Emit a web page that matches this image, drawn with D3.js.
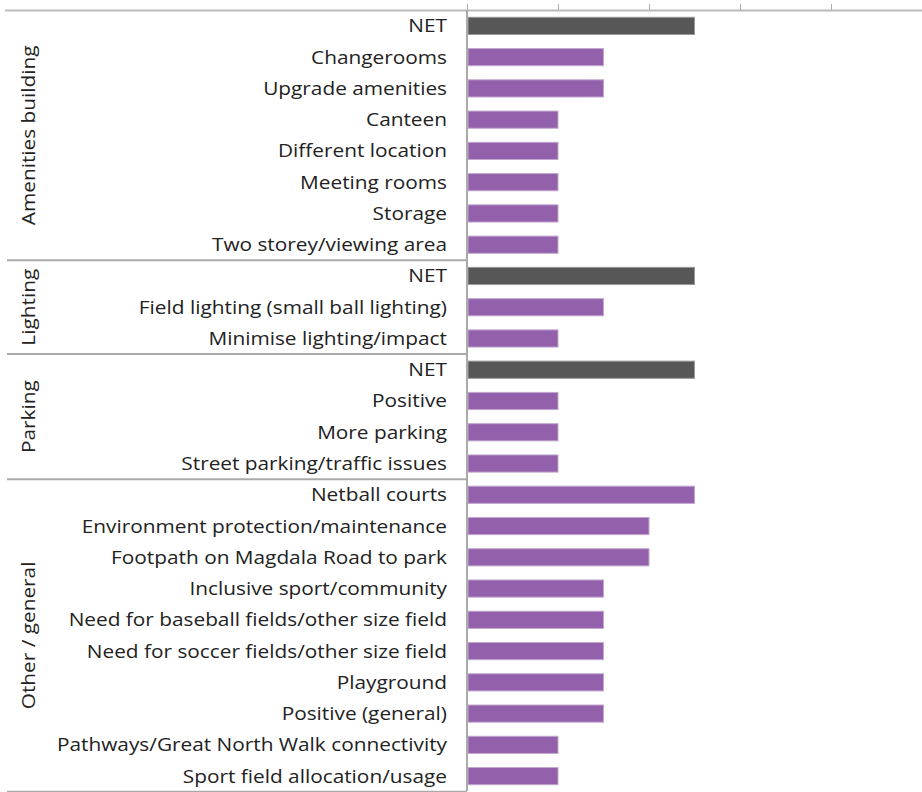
<!DOCTYPE html>
<html><head><meta charset="utf-8">
<script src="https://cdn.jsdelivr.net/npm/d3@7/dist/d3.min.js"></script>
<style>body{margin:0;background:#fff;} text{font-family:"Open Sans", sans-serif;}</style>
</head><body><svg id="c" width="922" height="792"></svg>
<script>
const groups = ["Amenities building","Lighting","Parking","Other / general"];
const categories = [
 "NET","Changerooms","Upgrade amenities","Canteen","Different location","Meeting rooms","Storage","Two storey/viewing area",
 "NET","Field lighting (small ball lighting)","Minimise lighting/impact",
 "NET","Positive","More parking","Street parking/traffic issues",
 "Netball courts","Environment protection/maintenance","Footpath on Magdala Road to park","Inclusive sport/community","Need for baseball fields/other size field","Need for soccer fields/other size field","Playground","Positive (general)","Pathways/Great North Walk connectivity","Sport field allocation/usage"
];
const groupOf = [0,0,0,0,0,0,0,0, 1,1,1, 2,2,2,2, 3,3,3,3,3,3,3,3,3,3];
const values = [5,3,3,2,2,2,2,2, 5,3,2, 5,2,2,2, 5,4,4,3,3,3,3,3,2,2];
const isNet = categories.map(c => c === "NET");
const ticks = [0,2,4,6,8,10];

const svg = d3.select("#c");
const x = d3.scaleLinear().domain([0,10]).range([467,922]);
const y = d3.scaleBand().domain(d3.range(categories.length)).range([10.4,791.6]).paddingInner(0.45).paddingOuter(0.22);

const ax = svg.append("g").attr("transform","translate(0,10)")
  .call(d3.axisTop(x).tickValues(ticks).tickSize(6).tickFormat(""));
ax.select(".domain").remove();
ax.selectAll("line").attr("stroke","#aaa").attr("stroke-width",1);
svg.append("line").attr("x1",5).attr("x2",922).attr("y1",10.5).attr("y2",10.5).attr("stroke","#bbb").attr("stroke-width",2);

svg.append("g").selectAll("rect").data(values).join("rect")
  .attr("x", x(0)+1)
  .attr("y", (d,i)=>y(i))
  .attr("width", d=>x(d)-x(0)-1)
  .attr("height", y.bandwidth())
  .attr("fill", (d,i)=> isNet[i] ? "#575757" : "#9361ab")
  .attr("stroke", (d,i)=> isNet[i] ? "#999" : "#c2a8cf")
  .attr("stroke-width",1);

const fs = 18.5;
const lbl = svg.append("g").selectAll("text").data(categories).join("text")
  .attr("x", 447).attr("y",(d,i)=>y(i)+y.bandwidth()/2)
  .attr("dy","0.35em").attr("text-anchor","end")
  .attr("font-size",fs).attr("fill","#222").text(d=>d);
// fit to reference widths: longest label spans ~390px
const longest = lbl.filter(d=>d==="Pathways/Great North Walk connectivity").node().getComputedTextLength();
const sc = 390/longest;
lbl.attr("textLength", function(){ return this.getComputedTextLength()*sc; }).attr("lengthAdjust","spacingAndGlyphs");

const step = y.step();
groups.forEach((g,gi)=>{
  const idx = d3.range(categories.length).filter(i=>groupOf[i]===gi);
  const top = y(idx[0]) - (step - y.bandwidth())/2;
  const bot = y(idx[idx.length-1]) + y.bandwidth() + (step - y.bandwidth())/2;
  svg.append("line").attr("x1",7).attr("x2",467).attr("y1",bot).attr("y2",bot)
    .attr("stroke","#aaa").attr("stroke-width",2);
  const t = svg.append("text").attr("transform",`translate(29,${(top+bot)/2}) rotate(-90)`)
    .attr("text-anchor","middle").attr("dy","0.35em").attr("font-size",fs).attr("fill","#222").text(g);
  t.attr("textLength", t.node().getComputedTextLength()*sc).attr("lengthAdjust","spacingAndGlyphs");
});

svg.append("line").attr("x1",467).attr("x2",467).attr("y1",10).attr("y2",791).attr("stroke","#aaa").attr("stroke-width",2);
</script></body></html>
